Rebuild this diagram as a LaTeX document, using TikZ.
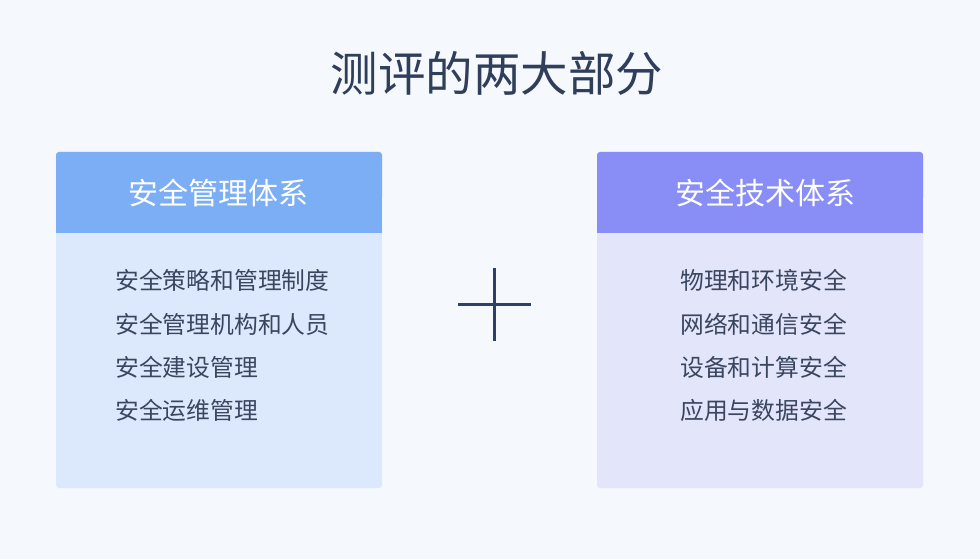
\documentclass[tikz,border=0pt]{standalone}
\usepackage{fontspec}
\setmainfont{Noto Sans CJK SC}
\newfontfamily\cjk{Noto Sans CJK SC}
\definecolor{bgc}{HTML}{F5F8FC}
\definecolor{titlec}{HTML}{2F3E5A}
\definecolor{bodytxt}{HTML}{3A4660}
\definecolor{lhead}{HTML}{7BAEF5}
\definecolor{lbody}{HTML}{DCE9FC}
\definecolor{rhead}{HTML}{898EF6}
\definecolor{rbody}{HTML}{E3E5FA}
\definecolor{plusc}{HTML}{2E4066}
\tikzset{
  headtxt/.style={text=white, font=\cjk\fontsize{30}{33}\selectfont, inner sep=0pt},
  itemtxt/.style={text=bodytxt, font=\cjk\fontsize{23.8}{26}\selectfont, inner sep=0pt, anchor=west},
  plusline/.style={draw=plusc, line width=3pt}
}
\begin{document}
\begin{tikzpicture}[x=1pt,y=-1pt]
\fill[bgc] (0,0) rectangle (980,559);
\useasboundingbox (0,0) rectangle (980,559);
% title
\node[text=titlec, font=\cjk\fontsize{47.5}{50}\selectfont, inner sep=0pt] (title) at (497,73) {测评的两大部分};
% left box
\fill[lbody, rounded corners=3pt] (56,152) rectangle (382,488);
\fill[lhead, rounded corners=3pt] (56,152) rectangle (382,200);
\fill[lhead] (56,180) rectangle (382,233);
\node[headtxt] (lh) at (218,193) {安全管理体系};
\node[itemtxt] (l1) at (115,280) {安全策略和管理制度};
\node[itemtxt] (l2) at (115,324) {安全管理机构和人员};
\node[itemtxt] (l3) at (115,367) {安全建设管理};
\node[itemtxt] (l4) at (115,410) {安全运维管理};
% right box
\fill[rbody, rounded corners=3pt] (597,152) rectangle (923,488);
\fill[rhead, rounded corners=3pt] (597,152) rectangle (923,200);
\fill[rhead] (597,180) rectangle (923,233);
\node[headtxt] (rh) at (765,193) {安全技术体系};
\node[itemtxt] (r1) at (680,280) {物理和环境安全};
\node[itemtxt] (r2) at (680,324) {网络和通信安全};
\node[itemtxt] (r3) at (680,367) {设备和计算安全};
\node[itemtxt] (r4) at (680,410) {应用与数据安全};
% plus
\coordinate (pl) at (458,304);
\coordinate (pr) at (531,304);
\coordinate (pt) at (494.5,268);
\coordinate (pb) at (494.5,341);
\draw[plusline] (pl) -- (pr);
\draw[plusline] (pt) -- (pb);
\end{tikzpicture}
\end{document}
